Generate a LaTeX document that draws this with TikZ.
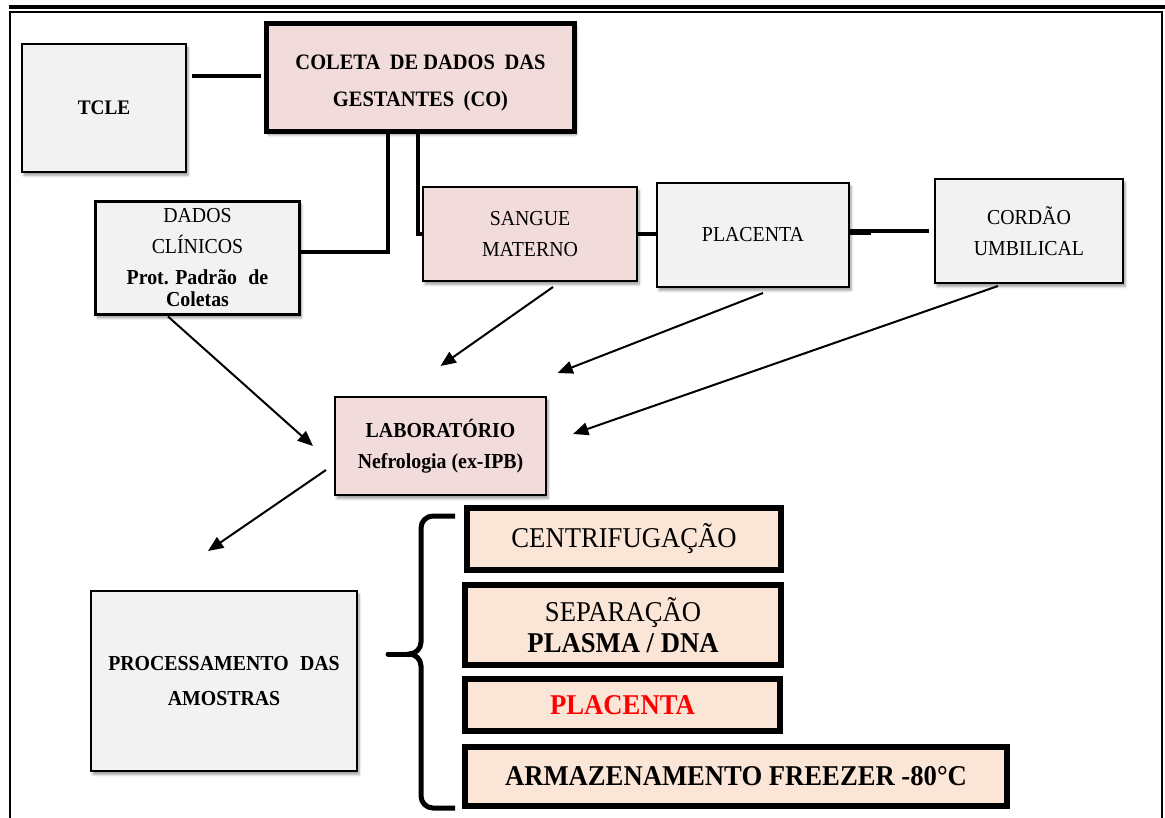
\documentclass[tikz,border=0pt]{standalone}
\usepackage{fontspec}
\setmainfont[FakeStretch=0.93]{Liberation Serif}
\usetikzlibrary{arrows.meta,shadows.blur,calc}
\definecolor{boxgray}{HTML}{F2F2F2}
\definecolor{boxpink}{HTML}{F2DCDB}
\definecolor{boxpeach}{HTML}{FBE5D6}
\begin{document}
\begin{tikzpicture}[x=0.75pt,y=-0.75pt,
  base/.style={draw=black, inner sep=0pt, outer sep=0pt, align=center, text=black},
  sz/.style 2 args={minimum width=#1*0.75pt, minimum height=#2*0.75pt},
  shad/.style={blur shadow={shadow xshift=1.5pt, shadow yshift=-2.5pt, shadow blur steps=6, shadow opacity=40}},
  graybox/.style={base, fill=boxgray, line width=2pt, shad},
  pinkbox/.style={base, fill=boxpink, line width=2pt, shad},
  peachbox/.style={base, fill=boxpeach, line width=4.5pt},
  link/.style={line width=2.6pt},
  arr/.style={line width=1.5pt, -{Triangle[length=11.5pt,width=9.5pt]}},
  topfont/.style={font=\fontsize{16}{23}\selectfont},
  topbold/.style={font=\bfseries\fontsize{16}{23}\selectfont},
  bigfont/.style={font=\fontsize{21.5}{23.5}\selectfont},
  bigbold/.style={font=\bfseries\fontsize{21.5}{23.5}\selectfont},
  bracestroke/.style={line width=3.75pt},
]
\useasboundingbox (0,0) rectangle (1165,818);
% frame
\draw[line width=2.5pt] (9,7) -- (1165,7);
\draw[line width=2pt] (10,818) -- (10,12) -- (1162,12) -- (1162,818);

% top row
\node[graybox, sz={164}{128}, font=\bfseries\fontsize{15.5}{17}\selectfont] (tcle) at (104,108) {TCLE};
\node[pinkbox, line width=4pt, sz={308}{108}, font=\bfseries\fontsize{16.5}{27.5}\selectfont] (coleta) at (420.5,77.5) {\rule{0pt}{19pt}COLETA\hspace{0.2em} DE DADOS\hspace{0.2em} DAS\\GESTANTES\hspace{0.2em} (CO)};

\node[graybox, line width=2.5pt, sz={204}{113}, topfont] (dados) at (197.5,258) {DADOS\\CLÍNICOS\\\textbf{Prot. Padrão\hspace{0.3em} de}\\[-6pt]\textbf{Coletas}};
\node[pinkbox, sz={214}{94}, topfont] (sangue) at (530,234) {SANGUE\\MATERNO};
\node[graybox, sz={192}{104}, topfont] (placenta) at (753,235) {PLACENTA};
\node[graybox, sz={188}{104}, topfont] (cordao) at (1029,231) {CORDÃO\\UMBILICAL};

\node[pinkbox, sz={211}{98}, topbold] (lab) at (440.5,446) {LABORATÓRIO\\Nefrologia (ex-IPB)};
\node[graybox, sz={266}{180}, font=\bfseries\fontsize{16}{26}\selectfont] (proc) at (224,681) {PROCESSAMENTO\hspace{0.3em} DAS\\AMOSTRAS};

% right column
\node[peachbox, sz={314}{62}, bigfont] (cent) at (624,539) {CENTRIFUGAÇÃO};
\node[peachbox, sz={316}{80}, bigfont] (sep) at (623,625) {SEPARAÇÃO\\\textbf{PLASMA / DNA}};
\node[peachbox, sz={315}{52}, bigbold, text=red] (plac2) at (622.5,705) {PLACENTA};
\node[peachbox, sz={542}{59}, bigbold] (arm) at (736,776.5) {ARMAZENAMENTO FREEZER -80°C};

% plain links
\coordinate (xa) at (388,0);
\coordinate (xb) at (418,0);
\draw[link] ($(tcle.east |- coleta.west)+(6,-1.5)$) -- ($(coleta.west)+(-6,-1.5)$);
\draw[line width=3.5pt] (coleta.south -| xa) |- ($(dados.east)+(0,-6)$);
\draw[line width=3.5pt] (coleta.south -| xb) |- (sangue.west);
\draw[line width=3.5pt] (sangue.east) -- (placenta.west |- sangue.east);
\draw[link] (placenta.east |- cordao.west) -- ($(cordao.west)+(-6,0)$);
\draw[line width=4.5pt] ($(placenta.east |- cordao.west)+(0,1)$) -- ++(22,0);

% arrows
\draw[arr] ($(dados.south)+(-29.5,2)$) -- ($(lab.west)+(-22,0)$);
\draw[arr] ($(sangue.south)+(23,6)$) -- ($(lab.north)+(0,-31)$);
\draw[arr] ($(placenta.south)+(10,6)$) -- ($(lab.north east)+(11.5,-24)$);
\draw[arr] ($(cordao.south)+(-31,3)$) -- ($(lab.east)+(27,-12)$);
\draw[arr] ($(lab.west)+(-9,24)$) -- ($(proc.north)+(-16,-40)$);

% brace
\draw[bracestroke] (455,516) -- (433,516) to[out=180,in=90] (421,528) -- (421,642)
  to[out=-90,in=0] (409,654) to[out=0,in=90] (421,666) -- (421,796)
  to[out=-90,in=180] (433,808) -- (455,808);
\draw[bracestroke, line cap=round] (388,654) -- (412,654);
\end{tikzpicture}
\end{document}
